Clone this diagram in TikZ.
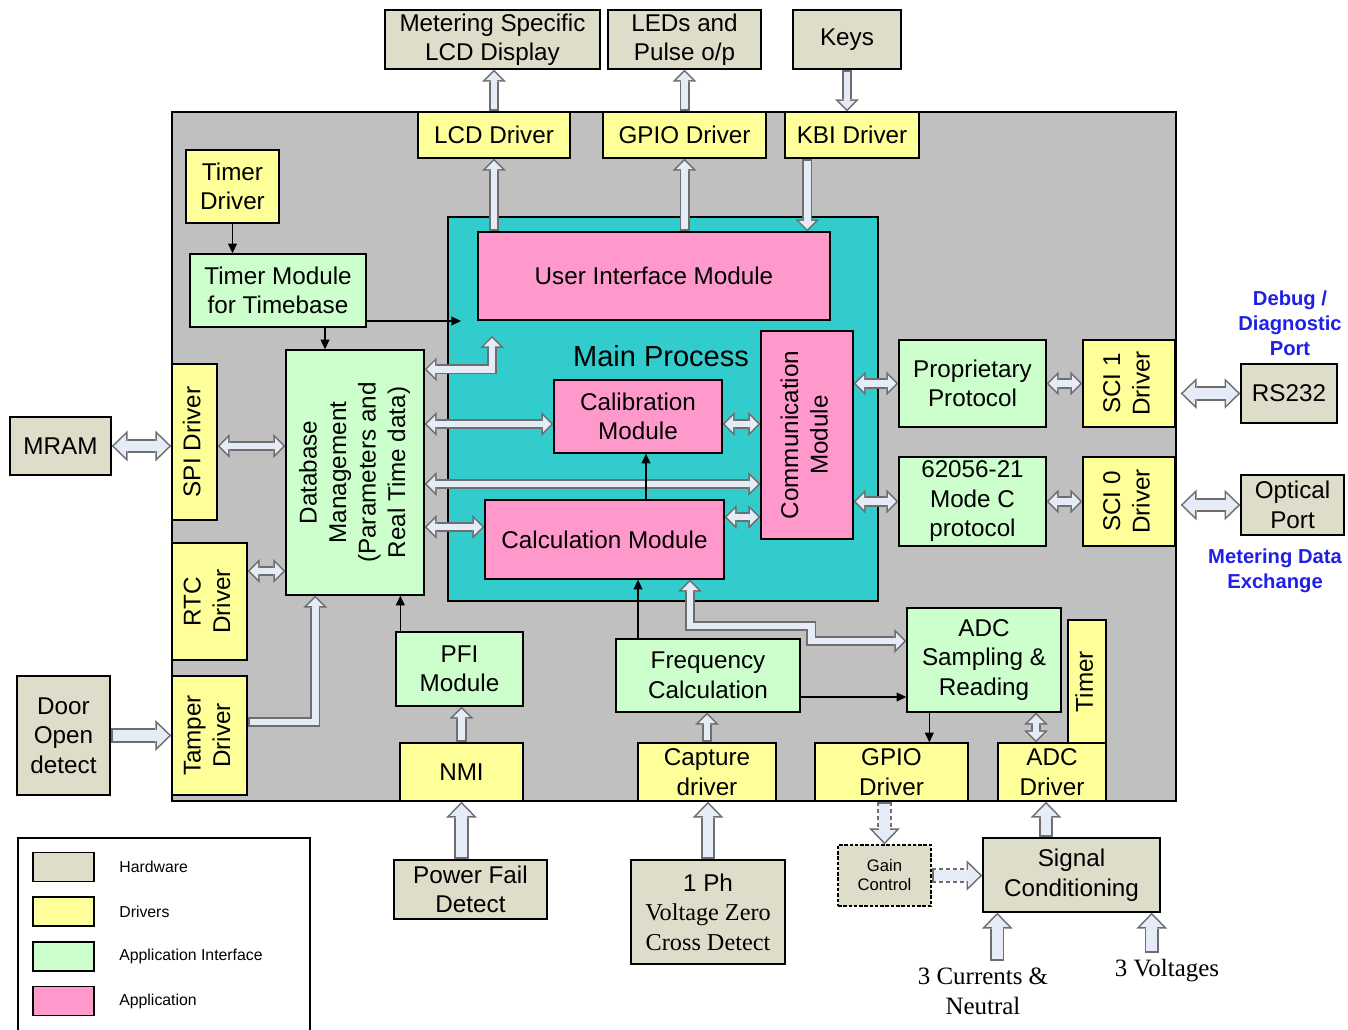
\documentclass[tikz,border=0pt]{standalone}
\usepackage{fontspec}
\setmainfont{Liberation Sans}
\newfontfamily\serifnote{Liberation Serif}
\usepackage{graphicx}
\usetikzlibrary{arrows.meta,calc}

\definecolor{sysgray}{HTML}{C0C0C0}
\definecolor{mainteal}{HTML}{33CCCC}
\definecolor{hwcol}{HTML}{DDDDC9}
\definecolor{drvcol}{HTML}{FFFF99}
\definecolor{apicol}{HTML}{CCFFCC}
\definecolor{appcol}{HTML}{FF99CC}
\definecolor{arrowedge}{HTML}{6E6E6E}
\definecolor{arrowfill}{HTML}{E6ECF7}
\definecolor{notecol}{HTML}{1F1FE6}

\newcommand\vtext[1]{\rotatebox{90}{\begin{tabular}{@{}c@{}}#1\end{tabular}}}
\newcommand\fatarr[3][fat]{\draw[#1out,#2] #3; \draw[#1in,#2] #3;}

\tikzset{
	blk/.style={draw, line width=0.8pt, inner sep=1pt, align=center, font=\fontsize{13.8}{16.8}\selectfont},
	hw/.style={blk, fill=hwcol},
	drv/.style={blk, fill=drvcol},
	api/.style={blk, fill=apicol},
	app/.style={blk, fill=appcol},
	note/.style={text=notecol, align=center, font=\bfseries\fontsize{11.5}{14.2}\selectfont},
	signote/.style={align=center, font=\serifnote\fontsize{14.2}{17}\selectfont},
	thinarr/.style={line width=0.8pt, -{Triangle[length=5.5pt,width=5pt]}},
	fatout/.style={draw=arrowedge, line width=5.7pt, >={Triangle[width=13.6pt,length=6.8pt,line width=0pt]}},
	fatin/.style={draw=arrowfill, line width=3.9pt, >={Triangle[width=9.3pt,length=4.6pt,line width=0pt]}, shorten >=1.27pt, shorten <=1.27pt},
	bigout/.style={draw=arrowedge, line width=8pt, >={Triangle[width=17.5pt,length=9pt,line width=0pt]}},
	bigin/.style={draw=arrowfill, line width=6.2pt, >={Triangle[width=13.2pt,length=6.8pt,line width=0pt]}, shorten >=1.29pt, shorten <=1.29pt},
	bigdashout/.style={bigout, dash pattern=on 2.5pt off 1.5pt},
	bigdashin/.style={bigin}
}

\begin{document}
\begin{tikzpicture}[x=0.02cm, y=-0.02cm]
	\useasboundingbox (0,0) rectangle (1348,1030);
	\draw[fill=sysgray, line width=0.8pt] (172,112) rectangle (1176,801);
	\draw[fill=mainteal, line width=0.8pt] (448,217) rectangle (878,601);
	\node[font=\fontsize{16.5}{19}\selectfont] (mainlbl) at (661,356) {Main Process};

	\node[hw, minimum width=4.30cm, minimum height=1.18cm] (lcddisp) at (492.5,39.5) {Metering Specific\\LCD Display};
	\node[hw, minimum width=3.06cm, minimum height=1.18cm] (leds) at (684.5,39.5) {LEDs and\\Pulse o/p};
	\node[hw, minimum width=2.16cm, minimum height=1.18cm] (keys) at (847,39.5) {Keys};
	\node[hw, minimum width=2.02cm, minimum height=1.16cm] (mram) at (60.5,446) {MRAM};
	\node[hw, minimum width=1.86cm, minimum height=2.38cm] (door) at (63.5,735.5) {Door\\Open\\detect};
	\node[hw, minimum width=1.92cm, minimum height=1.18cm] (rs232) at (1289,393.5) {RS232};
	\node[hw, minimum width=2.06cm, minimum height=1.20cm] (optical) at (1292.5,505) {Optical\\Port};
	\node[hw, minimum width=3.06cm, minimum height=1.18cm] (pfdet) at (470.5,889.5) {Power Fail\\Detect};
	\node[hw, minimum width=3.08cm, minimum height=2.08cm] (zcd) at (708,912) {1 Ph\\{\serifnote Voltage Zero}\\{\serifnote Cross Detect}};
	\node[hw, dash pattern=on 2pt off 1pt, minimum width=1.86cm, minimum height=1.22cm, font=\fontsize{9.5}{10.8}\selectfont] (gain) at (884.5,875.5) {Gain\\Control};
	\node[hw, minimum width=3.54cm, minimum height=1.48cm] (sigcond) at (1071.5,875) {Signal\\Conditioning};

	\node[drv, minimum width=3.04cm, minimum height=0.92cm] (lcddrv) at (494,135) {LCD Driver};
	\node[drv, minimum width=3.26cm, minimum height=0.92cm] (gpiodrv) at (684.5,135) {GPIO Driver};
	\node[drv, minimum width=2.68cm, minimum height=0.92cm] (kbidrv) at (852,135) {KBI Driver};
	\node[drv, minimum width=1.86cm, minimum height=1.46cm] (timerdrv) at (232.5,186.5) {Timer\\Driver};
	\node[drv, minimum width=0.90cm, minimum height=3.12cm] (spidrv) at (194.5,442) {\vtext{SPI Driver}};
	\node[drv, minimum width=1.50cm, minimum height=2.34cm] (rtcdrv) at (209.5,601.5) {\vtext{RTC\\Driver}};
	\node[drv, minimum width=1.50cm, minimum height=2.38cm] (tamperdrv) at (209.5,735.5) {\vtext{Tamper\\Driver}};
	\node[drv, minimum width=2.46cm, minimum height=1.16cm] (nmi) at (461.5,772) {NMI};
	\node[drv, minimum width=2.76cm, minimum height=1.16cm] (capdrv) at (707,772) {Capture\\driver};
	\node[drv, minimum width=3.06cm, minimum height=1.16cm] (gpiodrvb) at (891.5,772) {GPIO\\Driver};
	\node[drv, minimum width=2.16cm, minimum height=1.16cm] (adcdrv) at (1052,772) {ADC\\Driver};
	\node[drv, minimum width=0.76cm, minimum height=2.46cm] (timer) at (1087,681.5) {\vtext{Timer}};
	\node[drv, minimum width=1.84cm, minimum height=1.74cm] (sci1) at (1129,383.5) {\vtext{SCI 1\\Driver}};
	\node[drv, minimum width=1.84cm, minimum height=1.78cm] (sci0) at (1129,501.5) {\vtext{SCI 0\\Driver}};

	\node[api, minimum width=3.52cm, minimum height=1.46cm] (timermod) at (278,290.5) {Timer Module\\for Timebase};
	\node[api, minimum width=2.76cm, minimum height=4.90cm] (db) at (355,472.5) {\vtext{Database\\Management\\(Parameters and\\Real Time data)}};
	\node[api, minimum width=2.54cm, minimum height=1.48cm] (pfi) at (459.5,669) {PFI\\Module};
	\node[api, minimum width=3.68cm, minimum height=1.46cm] (freq) at (708,675.5) {Frequency\\Calculation};
	\node[api, minimum width=3.08cm, minimum height=2.08cm] (adcsamp) at (984,660) {ADC\\Sampling \&\\Reading};
	\node[api, minimum width=2.94cm, minimum height=1.74cm] (prop) at (972.5,383.5) {Proprietary\\Protocol};
	\node[api, minimum width=2.94cm, minimum height=1.78cm] (iec) at (972.5,501.5) {62056-21\\Mode C\\protocol};

	\node[app, minimum width=7.04cm, minimum height=1.76cm] (ui) at (654,276) {User Interface Module};
	\node[app, minimum width=3.36cm, minimum height=1.46cm] (calib) at (638,416.5) {Calibration\\Module};
	\node[app, minimum width=4.78cm, minimum height=1.58cm] (calc) at (604.5,539.5) {Calculation Module};
	\node[app, minimum width=1.84cm, minimum height=4.16cm] (comm) at (807,435) {\vtext{Communication\\Module}};

	\node[note] (dbglbl) at (1290,323) {Debug /\\Diagnostic\\Port};
	\node[note] (mdelbl) at (1275,571) {Metering Data\\Exchange};
	\node[signote] (curr) at (983,991) {3 Currents \&\\Neutral};
	\node[signote] (volt) at (1167,971) {3 Voltages};

	\draw[line width=0.6pt] (18,1030) -- (18,838) -- (310,838) -- (310,1030);
	\foreach \y/\c/\t [count=\i] in {867/hwcol/Hardware, 911.5/drvcol/Drivers, 956.5/apicol/Application Interface, 1001/appcol/Application}
	{
		\node[draw, line width=0.8pt, fill=\c, minimum width=1.22cm, minimum height=0.58cm] (key\i) at (63.5,\y) {};
		\node[anchor=west, inner sep=0pt, font=\fontsize{9}{11}\selectfont] (keytxt\i) at (119,\y) {\t};
	}

	\coordinate (uiin) at (492,336);
	\coordinate (mpin) at (461,321);

	\fatarr{->}{(lcddrv.north) -- (lcddrv.north |- lcddisp.south)}
	\fatarr{->}{(gpiodrv.north) -- (gpiodrv.north |- leds.south)}
	\fatarr{->}{(keys.south) -- (keys.south |- kbidrv.north)}
	\fatarr{->}{(ui.north -| lcddrv.south) -- (lcddrv.south)}
	\fatarr{->}{(ui.north -| gpiodrv.south) -- (gpiodrv.south)}
	\fatarr{->}{([xshift=0.46cm]kbidrv.south west) -- ([xshift=0.46cm]kbidrv.south west |- ui.north)}
	\fatarr{<->}{([yshift=-0.4cm]db.north east) -| (uiin)}
	\fatarr{<->}{([yshift=-0.15cm]calib.west -| db.east) -- ([yshift=-0.15cm]calib.west)}
	\fatarr{<->}{([yshift=-0.98cm]comm.west -| db.east) -- ([yshift=-0.98cm]comm.west)}
	\fatarr{<->}{([yshift=0.25cm]calc.west -| db.east) -- ([yshift=0.25cm]calc.west)}
	\fatarr{<->}{([yshift=-0.15cm]calib.east) -- ([yshift=-0.15cm]calib.east -| comm.west)}
	\fatarr{<->}{([yshift=0.45cm]calc.east) -- ([yshift=0.45cm]calc.east -| comm.west)}
	\fatarr{<->}{(prop.west -| comm.east) -- (prop.west)}
	\fatarr{<->}{(iec.west -| comm.east) -- (iec.west)}
	\fatarr{<->}{(prop.east) -- (prop.east -| sci1.west)}
	\fatarr{<->}{(iec.east) -- (iec.east -| sci0.west)}
	\fatarr[big]{<->}{([xshift=0.1cm]rs232.west -| sci1.east) -- (rs232.west)}
	\fatarr[big]{<->}{([xshift=0.1cm]optical.west -| sci0.east) -- (optical.west)}
	\fatarr[big]{<->}{(mram.east) -- (mram.east -| spidrv.west)}
	\fatarr{<->}{(mram.east -| spidrv.east) -- (mram.east -| db.west)}
	\fatarr{<->}{([yshift=0.61cm]rtcdrv.east) -- ([yshift=0.61cm]rtcdrv.east -| db.west)}
	\fatarr[big]{->}{(door.east) -- (door.east -| tamperdrv.west)}
	\fatarr{->}{([yshift=0.27cm]tamperdrv.east) -| ([xshift=0.6cm]db.south west)}
	\fatarr{->}{(nmi.north) -- (nmi.north |- pfi.south)}
	\fatarr[big]{->}{(nmi.south |- pfdet.north) -- (nmi.south)}
	\fatarr{->}{(capdrv.north) -- (capdrv.north |- freq.south)}
	\fatarr[big]{->}{(zcd.north) -- (zcd.north |- capdrv.south)}
	\fatarr{<->}{([yshift=0.38cm]adcsamp.west) -- ++(-95,0) -- ++(0,-15) -| ([xshift=1.71cm]calc.south)}
	\fatarr{<->}{([xshift=-0.32cm]adcdrv.north) -- ([xshift=-0.32cm]adcdrv.north |- adcsamp.south)}
	\fatarr[big]{->}{([xshift=-0.12cm]adcdrv.south |- sigcond.north) -- ([xshift=-0.12cm]adcdrv.south)}
	\fatarr[bigdash]{->}{(gpiodrvb.south -| gain.north) -- (gain.north)}
	\fatarr[bigdash]{->}{(gain.east) -- (gain.east -| sigcond.west)}
	\fatarr[big]{->}{([xshift=0.3cm]sigcond.south west |- curr.north) -- ([xshift=0.3cm]sigcond.south west)}
	\fatarr[big]{->}{([xshift=-0.18cm]sigcond.south east |- volt.north) -- ([xshift=-0.18cm]sigcond.south east)}

	\draw[thinarr] (timerdrv.south) -- (timerdrv.south |- timermod.north);
	\draw[thinarr] ([xshift=0.94cm]timermod.south) -- ([xshift=0.94cm]timermod.south |- db.north);
	\draw[thinarr] (timermod.east |- mpin) -- (mpin);
	\draw[thinarr] ([xshift=0.16cm]calib.south |- calc.north) -- ([xshift=0.16cm]calib.south);
	\draw[thinarr] ([xshift=-1.4cm]freq.north) -- ([xshift=-1.4cm]freq.north |- calc.south);
	\draw[thinarr] ([yshift=-0.43cm]freq.east) -- ([yshift=-0.43cm]freq.east -| adcsamp.west);
	\draw[thinarr] ([xshift=0.46cm]adcsamp.south west) -- ([xshift=0.46cm]adcsamp.south west |- gpiodrvb.north);
	\draw[thinarr] ([xshift=0.1cm]pfi.north west) -- ([xshift=0.1cm]pfi.north west |- db.south);
\end{tikzpicture}
\end{document}
